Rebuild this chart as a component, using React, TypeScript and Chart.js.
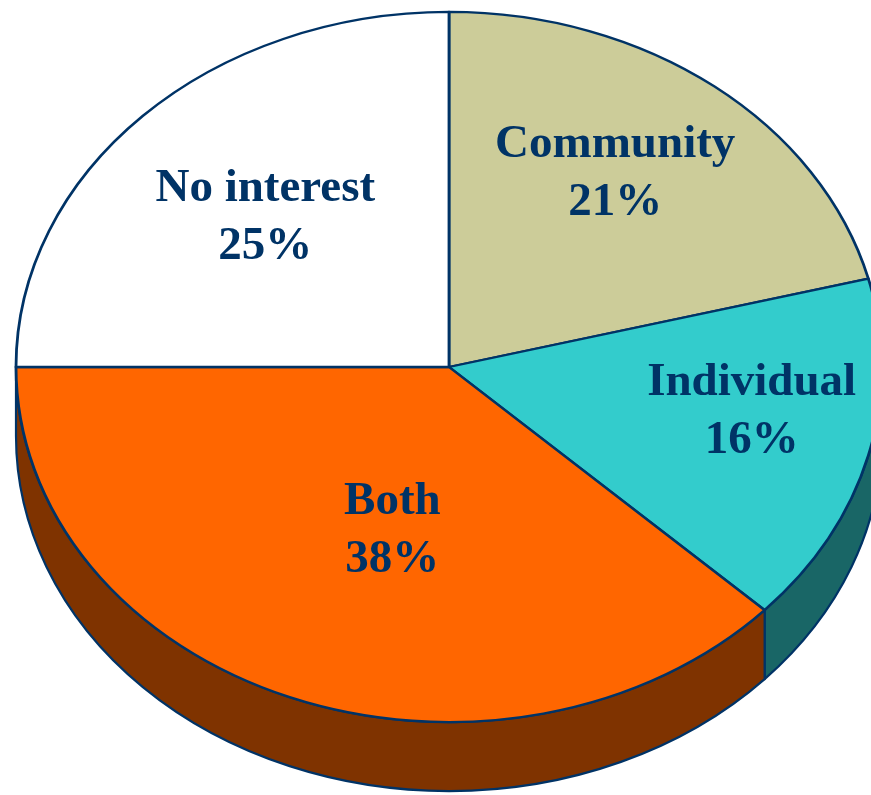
import React, { useEffect, useRef } from 'react';
import { Chart, registerables } from 'chart.js';

Chart.register(...registerables);

// ---- data ----
const categories = ['Community', 'Individual', 'Both', 'No interest'];
const shares = [21, 16, 38, 25];

// ---- styles ----
const sliceColors = ['#CCCC99', '#33CCCC', '#FF6600', '#FFFFFF'];
const labelNudges: [number, number][] = [[7, -13], [51, 4], [39, -22], [0, 14]];
const OUTLINE = '#003366';
const TEXT_COLOR = '#003366';
const TILT = 0.82;
const DEPTH = 69;
const RADIUS = 433;
const LABEL_FRACTION = 0.6;
const FONT = 'bold 47px "Liberation Serif", "Times New Roman", serif';
const HALF_LINE = 29;

function darken(hex: string, f = 0.5): string {
  const h = hex.replace('#', '');
  const r = Math.floor(parseInt(h.slice(0, 2), 16) * f);
  const g = Math.floor(parseInt(h.slice(2, 4), 16) * f);
  const b = Math.floor(parseInt(h.slice(4, 6), 16) * f);
  return `rgb(${r},${g},${b})`;
}

const pie3d = {
  id: 'pie3d',
  beforeDatasetsDraw(chart: any) {
    const meta = chart.getDatasetMeta(0);
    const ctx = chart.ctx as CanvasRenderingContext2D;
    const arcs = meta.data;
    chart.$pie3dSaved = false;
    if (!arcs.length) return;
    const { x: cx, y: cy, outerRadius: r } = arcs[0].getProps(['x', 'y', 'outerRadius'], true);
    const ry = r * TILT;
    ctx.save();
    arcs.forEach((arc: any, i: number) => {
      const { startAngle, endAngle } = arc.getProps(['startAngle', 'endAngle'], true);
      for (const shift of [-2 * Math.PI, 0, 2 * Math.PI]) {
        const a1 = Math.max(startAngle + shift, 0);
        const a2 = Math.min(endAngle + shift, Math.PI);
        if (a2 > a1 + 1e-6) {
          ctx.beginPath();
          ctx.ellipse(cx, cy, r, ry, 0, a1, a2, false);
          ctx.lineTo(cx + r * Math.cos(a2), cy + ry * Math.sin(a2) + DEPTH);
          ctx.ellipse(cx, cy + DEPTH, r, ry, 0, a2, a1, true);
          ctx.closePath();
          ctx.fillStyle = darken(sliceColors[i % sliceColors.length]);
          ctx.fill();
          ctx.lineWidth = 2.2;
          ctx.lineJoin = 'round';
          ctx.strokeStyle = OUTLINE;
          ctx.stroke();
        }
      }
    });
    ctx.restore();
    ctx.save();
    ctx.translate(cx, cy);
    ctx.scale(1, TILT);
    ctx.translate(-cx, -cy);
    chart.$pie3dSaved = true;
  },
  afterDatasetsDraw(chart: any) {
    const ctx = chart.ctx as CanvasRenderingContext2D;
    if (chart.$pie3dSaved) ctx.restore();
    chart.$pie3dSaved = false;
    const meta = chart.getDatasetMeta(0);
    const arcs = meta.data;
    const values = chart.data.datasets[0].data as number[];
    const total = values.reduce((a, b) => a + b, 0);
    ctx.save();
    ctx.font = FONT;
    ctx.fillStyle = TEXT_COLOR;
    ctx.textAlign = 'center';
    ctx.textBaseline = 'alphabetic';
    arcs.forEach((arc: any, i: number) => {
      const { x, y, startAngle, endAngle, outerRadius } = arc.getProps(
        ['x', 'y', 'startAngle', 'endAngle', 'outerRadius'],
        true
      );
      const mid = (startAngle + endAngle) / 2;
      const rr = outerRadius * LABEL_FRACTION;
      const nudge = labelNudges[i] || [0, 0];
      const lx = x + rr * Math.cos(mid) + nudge[0];
      const ly = y + rr * TILT * Math.sin(mid) + nudge[1];
      const pct = Math.round((values[i] / total) * 100) + '%';
      ctx.fillText(chart.data.labels[i], lx, ly - HALF_LINE);
      ctx.fillText(pct, lx, ly + HALF_LINE);
    });
    ctx.restore();
  },
};

export default function App() {
  const ref = useRef<HTMLCanvasElement | null>(null);
  useEffect(() => {
    if (!ref.current) return;
    const chart = new Chart(ref.current, {
      type: 'pie',
      data: {
        labels: categories,
        datasets: [
          {
            data: shares,
            backgroundColor: sliceColors,
            borderColor: OUTLINE,
            borderWidth: 2.8,
            borderJoinStyle: 'round',
            clip: false as any,
          } as any,
        ],
      },
      options: {
        responsive: false,
        animation: false,
        events: [],
        radius: RADIUS,
        layout: { padding: { left: 27, right: 0, top: 0, bottom: 61 } },
        plugins: {
          legend: { display: false },
          tooltip: { enabled: false },
          title: { display: false },
        },
      } as any,
      plugins: [pie3d],
    });
    return () => chart.destroy();
  }, []);
  return (
    <div style={{ position: 'absolute', left: 0, top: 0, width: 871, height: 795, overflow: 'hidden', background: '#fff' }}>
      <canvas ref={ref} width={871} height={795} style={{ display: 'block' }} />
    </div>
  );
}
